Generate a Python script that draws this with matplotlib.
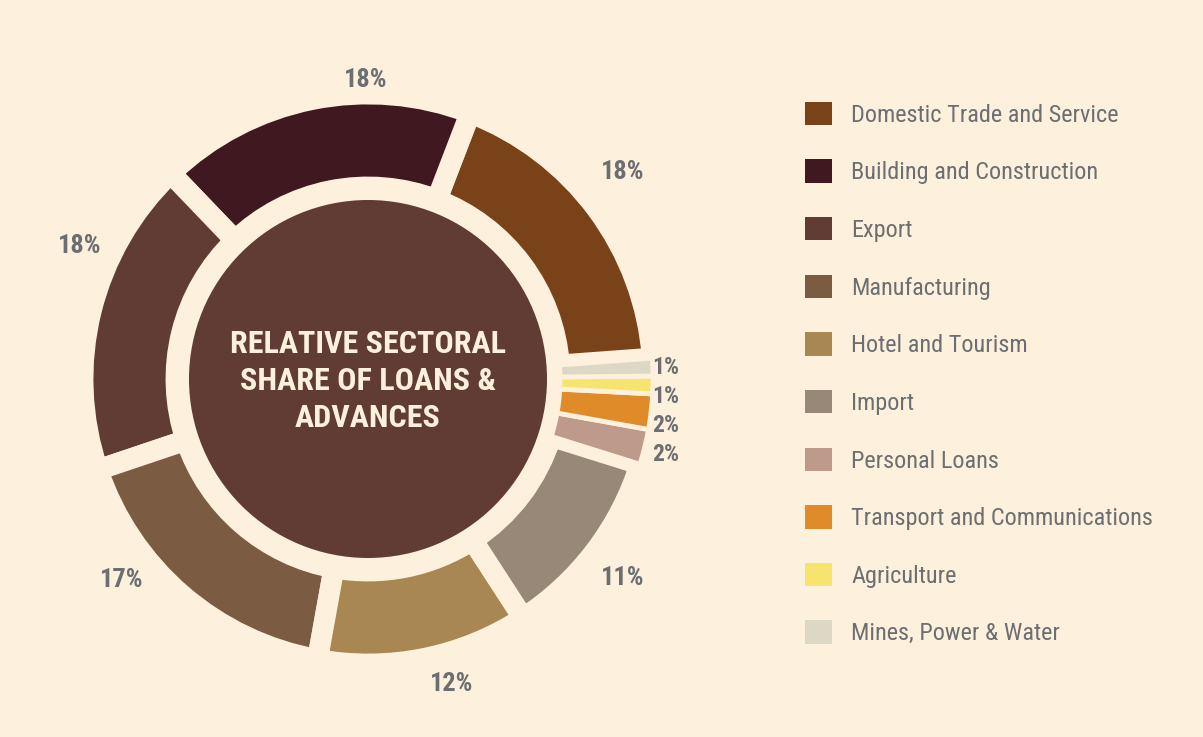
import matplotlib
matplotlib.use("Agg")
import matplotlib.pyplot as plt
from matplotlib.patches import Patch, Circle
import numpy as np

# data
sectors = ["Domestic Trade and Service", "Building and Construction", "Export",
           "Manufacturing", "Hotel and Tourism", "Import", "Personal Loans",
           "Transport and Communications", "Agriculture", "Mines, Power & Water"]
shares = [18, 18, 18, 17, 12, 11, 2, 2, 1, 1]
colors = ["#7a4218", "#3f1820", "#613c34", "#7b5c43", "#a88752",
          "#988878", "#bd9a89", "#e08b2a", "#f7e46e", "#dcd8c5"]
# nudges for the big labels: angle (deg) and distance (x radius)
label_shift = [2.5, -11, -11, -10, 4, -0.8, 0, 0, 0, 0]
label_dist = [1.15, 1.05, 1.115, 1.115, 1.11, 1.135, 1, 1, 1, 1]

bg = "#fdf0dc"
grey = "#6d6e71"
plt.rcParams["font.family"] = ["Roboto Condensed", "DejaVu Sans"]

W, H = 1203, 737
fig = plt.figure(figsize=(W / 100, H / 100), dpi=100, facecolor=bg)
ax = fig.add_axes([0, 0, 1, 1])
ax.set_facecolor(bg)

cx, cy = 368, H - 379
R = 285
wedges, _ = ax.pie(shares, colors=colors, startangle=4.2, counterclock=True,
                   radius=R, center=(cx, cy),
                   wedgeprops=dict(width=93, edgecolor=bg, linewidth=15))
# thinner gaps around the small slices
for w, s in zip(wedges, shares):
    if s <= 2:
        w.set_linewidth(3.5)

ax.set_xlim(0, W)
ax.set_ylim(0, H)
ax.set_aspect("equal")
ax.axis("off")

# centre disc with title
ax.add_patch(Circle((cx, cy), 179, facecolor="#613c34", edgecolor="none"))
ax.text(cx, cy - 2, "RELATIVE SECTORAL\nSHARE OF LOANS &\nADVANCES", ha="center", va="center",
        color=bg, fontsize=23, fontweight="bold", linespacing=1.3)

# percentage labels
small_y = []
for w, s, shift, dist in zip(wedges, shares, label_shift, label_dist):
    mid = np.deg2rad((w.theta1 + w.theta2) / 2 + shift)
    if s >= 5:
        r = R * dist
        ax.text(cx + r * np.cos(mid), cy + r * np.sin(mid), f"{s}%", ha="center", va="center",
                color=grey, fontsize=19, fontweight="bold")
    else:
        small_y.append((cy + (R - 8) * np.sin(mid), s))

# spread the small labels so they don't collide
small_y.sort(key=lambda t: -t[0])
prev = None
for y, s in small_y:
    if prev is not None and prev - y < 29:
        y = prev - 29
    ax.text(cx + R - 1, y, f"{s}%", ha="left", va="center",
            color=grey, fontsize=17, fontweight="bold")
    prev = y

handles = [Patch(facecolor=c, edgecolor="none") for c in colors]
fig.legend(handles, sectors, loc="upper left", bbox_to_anchor=(783 / W, 1 - 80 / H),
           frameon=False, fontsize=17.5, labelcolor=grey, handlelength=1.1,
           handleheight=1.1, handletextpad=0.8, labelspacing=1.345)

plt.savefig("out.png", dpi=100, facecolor=bg)
